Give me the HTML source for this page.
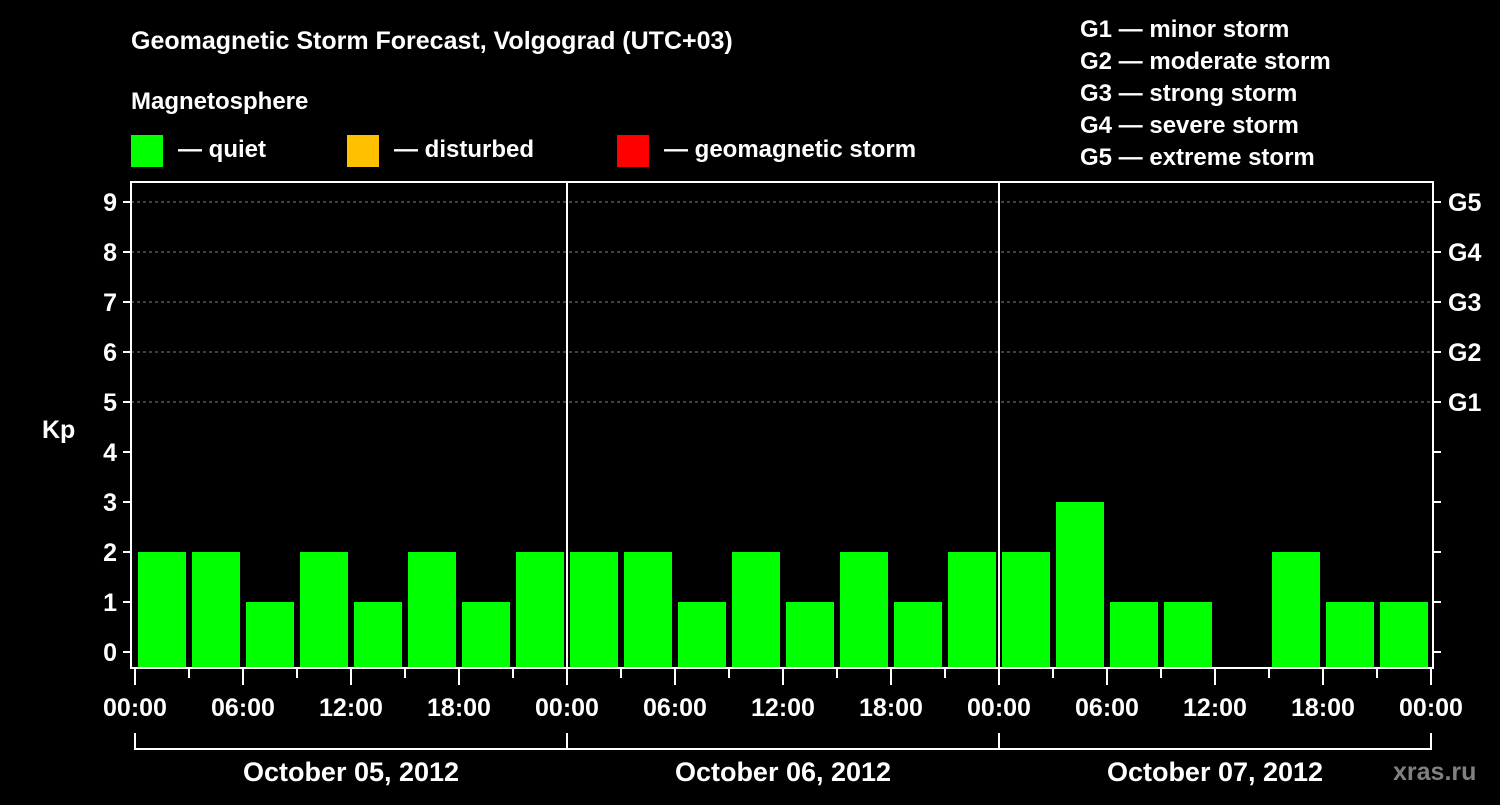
<!DOCTYPE html>
<html><head><meta charset="utf-8"><style>
body{margin:0;background:#000;width:1500px;height:800px;overflow:hidden}
svg text{font-family:"Liberation Sans",sans-serif;font-weight:bold;fill:#fff}
</style></head><body>
<svg id="c" width="1500" height="800" xmlns="http://www.w3.org/2000/svg">
<text x="131" y="49" font-size="25">Geomagnetic Storm Forecast, Volgograd (UTC+03)</text>
<text x="131" y="109" font-size="24">Magnetosphere</text>
<rect x="131" y="135" width="32" height="32" fill="#00ff00"/>
<text x="178" y="157" font-size="24">— quiet</text>
<rect x="347" y="135" width="32" height="32" fill="#ffc000"/>
<text x="394" y="157" font-size="24">— disturbed</text>
<rect x="617" y="135" width="32" height="32" fill="#ff0000"/>
<text x="664" y="157" font-size="24">— geomagnetic storm</text>
<g font-size="24">
<text x="1080" y="37">G1 — minor storm</text>
<text x="1080" y="69">G2 — moderate storm</text>
<text x="1080" y="101">G3 — strong storm</text>
<text x="1080" y="133">G4 — severe storm</text>
<text x="1080" y="165">G5 — extreme storm</text>
</g>
<text x="42" y="438" font-size="25">Kp</text>
<text x="1393" y="780" font-size="25" style="fill:#808080">xras.ru</text>
<g id="plot"></g>
</svg>
<script>
const days = ["October 05, 2012","October 06, 2012","October 07, 2012"];
const kpValues = [2,2,1,2,1,2,1,2, 2,2,1,2,1,2,1,2, 2,3,1,1,0,2,1,1];
const yTicks = [0,1,2,3,4,5,6,7,8,9];
const gLabels = ["G1","G2","G3","G4","G5"];
const gLevels = [5,6,7,8,9];
const hourLabels = ["00:00","06:00","12:00","18:00"];

const L=131,R=1433,T=182,B=668,X0=135,DAY=432;
const xPos = h => X0 + h*DAY/24;
const yPos = v => 652 - v*50;
const g=document.getElementById('plot');
const NS="http://www.w3.org/2000/svg";
function mk(tag,attrs,parent){const e=document.createElementNS(NS,tag);for(const k in attrs)e.setAttribute(k,attrs[k]);(parent||g).appendChild(e);return e;}

// grid
gLevels.forEach(v=>{
  const l=mk('line',{x1:L,x2:R,y1:yPos(v),y2:yPos(v),stroke:'#808080','stroke-dasharray':'3,3','stroke-width':1});
  
  
});
// bars
kpValues.forEach((v,i)=>{
  if(v<=0)return;
  const x=xPos(i*3)+3;
  const col=v>=5?'#ff0000':(v>=4?'#ffc000':'#00ff00');
  const r=mk('rect',{x:x,y:yPos(v),width:48,height:B-yPos(v),fill:col});
  
  
});
// frame
const fr=mk('rect',{x:L,y:T,width:R-L,height:B-T,fill:'none',stroke:'#fff','stroke-width':2});


// day separators
for(let d=1;d<days.length;d++){
  const s=mk('line',{x1:xPos(d*24),x2:xPos(d*24),y1:T,y2:B,stroke:'#fff','stroke-width':2});
  
  
}
// y ticks
yTicks.forEach(v=>{
  mk('line',{x1:L-8,x2:L,y1:yPos(v),y2:yPos(v),stroke:'#fff','stroke-width':2});
  mk('line',{x1:R,x2:R+8,y1:yPos(v),y2:yPos(v),stroke:'#fff','stroke-width':2});
  const t=mk('text',{x:L-14,y:yPos(v)+9,'font-size':25,'text-anchor':'end'});
  t.textContent=v;
  
  
});
gLabels.forEach((s,i)=>{
  const t=mk('text',{x:1448,y:yPos(gLevels[i])+9,'font-size':25});
  t.textContent=s;
  
  
});
// x ticks
for(let h=0;h<=days.length*24;h+=3){
  const major=h%6===0;
  mk('line',{x1:xPos(h),x2:xPos(h),y1:B,y2:B+(major?17:10),stroke:'#fff','stroke-width':2});
  if(major){
    const t=mk('text',{x:xPos(h),y:716,'font-size':25,'text-anchor':'middle'});
    t.textContent=hourLabels[(h%24)/6];
    
    
  }
}
// day brackets
days.forEach((d,i)=>{
  const x1=xPos(i*24),x2=xPos((i+1)*24);
  mk('line',{x1:x1,x2:x1,y1:733,y2:750,stroke:'#fff','stroke-width':2});
  mk('line',{x1:x2,x2:x2,y1:733,y2:750,stroke:'#fff','stroke-width':2});
  mk('line',{x1:x1,x2:x2,y1:749,y2:749,stroke:'#fff','stroke-width':2});
  const t=mk('text',{x:(x1+x2)/2,y:781,'font-size':27,'text-anchor':'middle'});
  t.textContent=d;
  
  
});
</script>
</body></html>
